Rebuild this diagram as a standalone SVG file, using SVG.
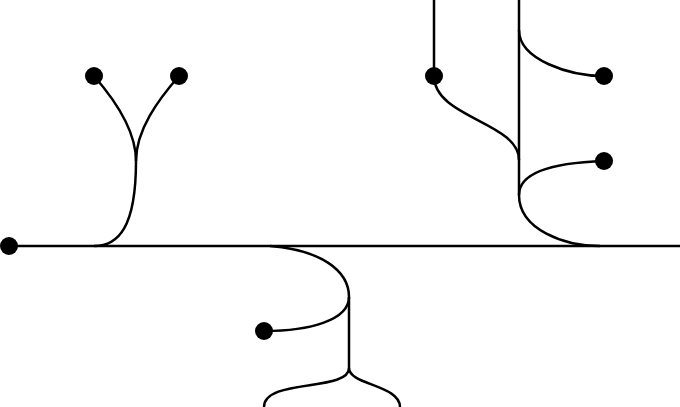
<svg xmlns="http://www.w3.org/2000/svg" width="680" height="407" viewBox="0 0 680 407">
<style>
.w{fill:none;stroke:#000;stroke-width:2.5}
.d{fill:#000}
</style>
<rect width="680" height="407" fill="#fff"/>
<g id="connectors">
<path class="w" d="M9,246 H680"/>
<path class="w" d="M94,76 C115,100 136,130 136,161"/>
<path class="w" d="M179,76 C158,100 136,130 136,161"/>
<path class="w" d="M136,161 C136,228 118,246 94,246"/>
<path class="w" d="M434,0 V76"/>
<path class="w" d="M519,0 V195"/>
<path class="w" d="M519,30 C519,60 570,76 604,76"/>
<path class="w" d="M434,76 C434,118 519,122 519,160"/>
<path class="w" d="M604,161 C545,163 519,175 519,195"/>
<path class="w" d="M519,195 C519,230 565,246 600,246"/>
<path class="w" d="M270,246 C320,250 349,270 349,297"/>
<path class="w" d="M264,331 C310,331 349,320 349,297"/>
<path class="w" d="M349,297 V368"/>
<path class="w" d="M349,368 C349,392 264,378 264,407"/>
<path class="w" d="M349,368 C349,385 400,385 400,407"/>
</g>
<g id="n1"><circle class="d" cx="9" cy="246" r="9"/></g>
<g id="n2"><circle class="d" cx="94" cy="76" r="9"/></g>
<g id="n3"><circle class="d" cx="179" cy="76" r="9"/></g>
<g id="n4"><circle class="d" cx="434" cy="76" r="9"/></g>
<g id="n5"><circle class="d" cx="604" cy="76" r="9"/></g>
<g id="n6"><circle class="d" cx="604" cy="161" r="9"/></g>
<g id="n7"><circle class="d" cx="264" cy="331" r="9"/></g>
</svg>
